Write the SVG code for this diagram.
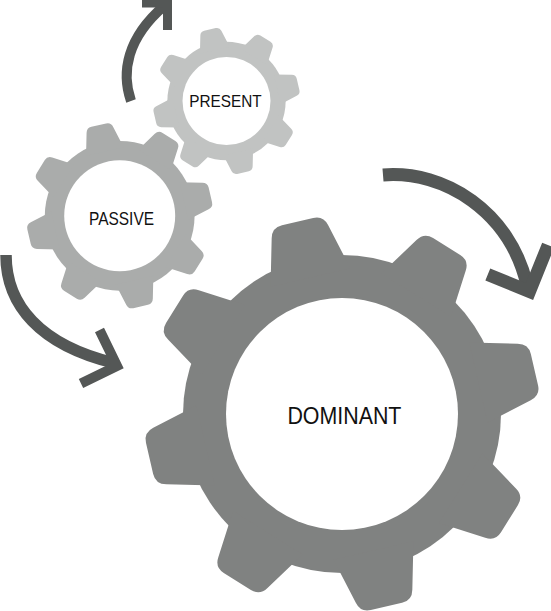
<svg xmlns="http://www.w3.org/2000/svg" xmlns:xlink="http://www.w3.org/1999/xlink" width="551" height="611" viewBox="0 0 551 611">
<style>
  .label{font-family:"Liberation Sans",Arial,Helvetica,sans-serif;fill:#111;}
  .hole{fill:#ffffff;}
  .arrow{fill:none;stroke:#545756;stroke-linecap:butt;stroke-linejoin:miter;stroke-miterlimit:10;}
</style>
<defs>
  <path id="tooth" d="M -41,-140 L -29,-187 Q -26.5,-197.5 -16,-197.5 L 16,-197.5 Q 26.5,-197.5 29,-187 L 41,-140 Z"/>
  <g id="gear">
    <circle r="159"/>
    <g transform="rotate(-13)">
      <use href="#tooth" xlink:href="#tooth"/>
      <use href="#tooth" xlink:href="#tooth" transform="rotate(45)"/>
      <use href="#tooth" xlink:href="#tooth" transform="rotate(90)"/>
      <use href="#tooth" xlink:href="#tooth" transform="rotate(135)"/>
      <use href="#tooth" xlink:href="#tooth" transform="rotate(180)"/>
      <use href="#tooth" xlink:href="#tooth" transform="rotate(225)"/>
      <use href="#tooth" xlink:href="#tooth" transform="rotate(270)"/>
      <use href="#tooth" xlink:href="#tooth" transform="rotate(315)"/>
    </g>
  </g>
</defs>

<g id="present" fill="#c1c3c2">
  <use href="#gear" xlink:href="#gear" transform="translate(226.5,101) scale(0.372)"/>
  <circle class="hole" cx="226.5" cy="101" r="44"/>
  <text class="label" x="189.3" y="107.3" font-size="17" textLength="72.4" lengthAdjust="spacingAndGlyphs">PRESENT</text>
</g>

<g id="passive" fill="#aaacab">
  <use href="#gear" xlink:href="#gear" transform="translate(119.7,215.8) scale(0.471)"/>
  <circle class="hole" cx="119.7" cy="215.8" r="55.5"/>
  <text class="label" x="89" y="225" font-size="17.7" textLength="65" lengthAdjust="spacingAndGlyphs">PASSIVE</text>
</g>

<g id="dominant" fill="#808281">
  <use href="#gear" xlink:href="#gear" transform="translate(342,414)"/>
  <circle class="hole" cx="342" cy="414" r="116"/>
  <text class="label" x="287.4" y="423.5" font-size="23" textLength="114" lengthAdjust="spacingAndGlyphs">DOMINANT</text>
</g>

<g id="connectors" class="arrow">
  <path stroke-width="10" d="M 131,101 C 121,72 127,38 164,6"/>
  <polyline stroke-width="9" points="142,3 167.5,3 167.5,30"/>
  <path stroke-width="11.5" d="M 6,255 C 6,305 40,345 114,363"/>
  <polyline stroke-width="10" points="99.5,330 117,366 81,383.5"/>
  <path stroke-width="13" d="M 383,175 C 445,170 510,212 527,285"/>
  <polyline stroke-width="13" points="487.8,274.6 529.5,291.5 548.2,245.1"/>
</g>
</svg>
